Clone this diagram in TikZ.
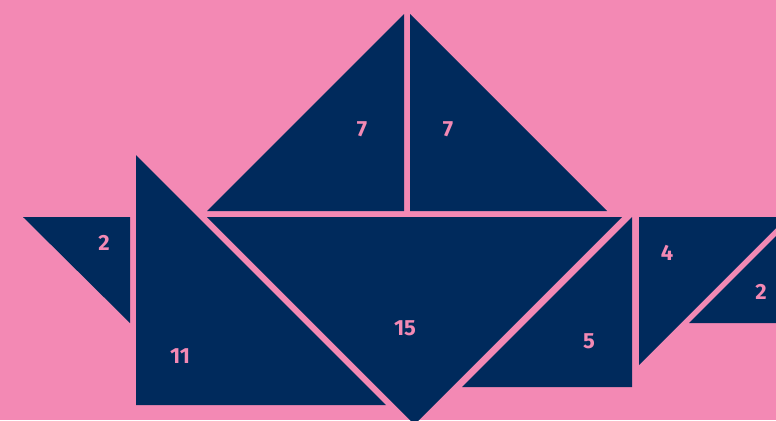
\documentclass[tikz,border=0pt]{standalone}
\usepackage{fontspec}
\setsansfont{Fira Sans}
\usetikzlibrary{positioning}
\usepackage{xcolor}
\definecolor{bgPink}{RGB}{243, 137, 180}
\definecolor{tanNavy}{RGB}{0, 42, 92}

\tikzset{
  piece/.style={fill=tanNavy},
  area/.style={text=bgPink, font=\fontsize{12.5}{14}\selectfont\sffamily\bfseries}
}

\begin{document}
\begin{tikzpicture}[x=0.02cm, y=-0.02cm]
    %
    % Units are pixels of the 776 x 420 frame, y grows downwards.
    %
    \useasboundingbox (0,0) rectangle (776,420);
    \clip (0,0) rectangle (776,420);
    \fill[bgPink] (0,0) rectangle (776,420);

    %% -- sails ---------------------------------------------------------
    \fill[piece] (207,211) -- (404,14) -- (404,211) -- cycle;
    \fill[piece] (410,211) -- (410,14) -- (607,211) -- cycle;
    \node[area] (sailL) at (362,129) {7};
    \node[area] (sailR) at (448,129) {7};

    %% -- hull ----------------------------------------------------------
    \fill[piece] (207,217) -- (622,217) -- (414.5,424.5) -- cycle;
    \node[area] (hull) at (405,328) {15};

    %% -- left side -----------------------------------------------------
    \fill[piece] (23,217) -- (130,217) -- (130,323) -- cycle;
    \node[area] (bowS) at (104,243) {2};
    \fill[piece] (136,155) -- (386,405) -- (136,405) -- cycle;
    \node[area] (bowL) at (180,356) {11};

    %% -- right side ----------------------------------------------------
    \fill[piece] (632,217) -- (632,387) -- (462,387) -- cycle;
    \node[area] (sternM) at (589,341) {5};
    \fill[piece] (639,217) -- (787,217) -- (639,365) -- cycle;
    \node[area] (sternU) at (667,253) {4};
    \fill[piece] (689,323) -- (795,217) -- (795,323) -- cycle;
    \node[area] (sternS) at (761,292) {2};

  \end{tikzpicture}
\end{document}
